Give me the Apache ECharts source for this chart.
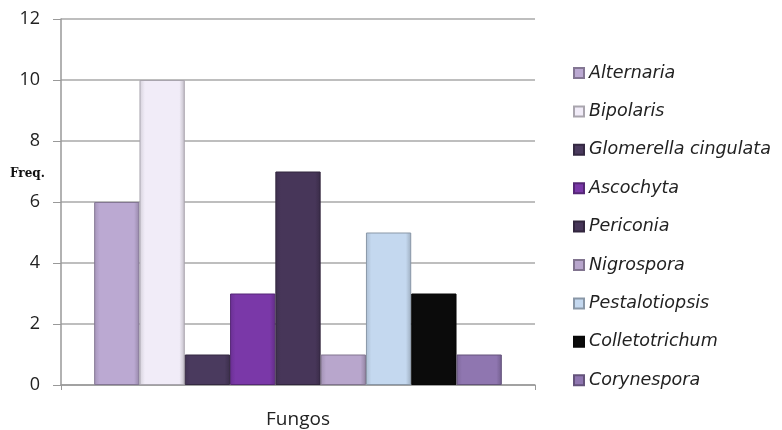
<!DOCTYPE html>
<html>
<head>
<meta charset="utf-8">
<script src="https://cdn.jsdelivr.net/npm/echarts@6/dist/echarts.min.js"></script>
<style>html,body{margin:0;padding:0;background:#fff;}#c{width:782px;height:430px;}</style>
</head>
<body>
<div id="c"></div>
<script>
const categories = ['Fungos'];
const seriesNames = ['Alternaria','Bipolaris','Glomerella cingulata','Ascochyta','Periconia','Nigrospora','Pestalotiopsis','Colletotrichum','Corynespora'];
const seriesValues = [6, 10, 1, 3, 7, 1, 5, 3, 1];
const seriesColors = ['#BBA9D2','#F1ECF8','#4A3A5E','#7A38A8','#473659','#B8A6CC','#C4D8EF','#0B0B0B','#8F76B0'];
const yTicks = [0, 2, 4, 6, 8, 10, 12];

function shade(hex, f){
  const n = parseInt(hex.slice(1),16);
  let r=(n>>16)&255,g=(n>>8)&255,b=n&255;
  const m = c => Math.max(0,Math.min(255,Math.round(f>0? c+(255-c)*f : c*(1+f))));
  return 'rgb('+m(r)+','+m(g)+','+m(b)+')';
}

const chart = echarts.init(document.getElementById('c'));
chart.setOption({
  backgroundColor: '#ffffff',
  animation: false,
  grid: { left: 61, right: 247, top: 19, bottom: 45 },
  legend: {
    orient: 'vertical',
    left: 573,
    top: 64,
    padding: 0,
    itemWidth: 10,
    itemHeight: 10,
    itemGap: 20.4,
    icon: 'rect',
    textStyle: { fontFamily: 'DejaVu Sans', fontStyle: 'italic', fontSize: 17.5, color: '#222', lineHeight: 18 },
    data: seriesNames
  },
  xAxis: {
    type: 'category',
    data: categories,
    axisLine: { lineStyle: { color: '#999', width: 1.5 } },
    axisTick: { show: true, alignWithLabel: false, length: 5, lineStyle: { color: '#999' } },
    axisLabel: { fontFamily: 'Open Sans', fontSize: 19, color: '#222', margin: 25 }
  },
  yAxis: {
    type: 'value',
    min: yTicks[0],
    max: yTicks[yTicks.length-1],
    interval: 2,
    axisLine: { show: true, lineStyle: { color: '#999', width: 1.5 } },
    axisTick: { show: true, length: 8, lineStyle: { color: '#999' } },
    splitLine: { lineStyle: { color: '#a8a8a8', width: 1.5 } },
    axisLabel: { fontFamily: 'Open Sans', fontSize: 18, color: '#222', margin: 21 }
  },
  graphic: [{
    type: 'text', left: 10, top: 168,
    style: { text: 'Freq.', font: 'bold 12px "DejaVu Serif", serif', fill: '#111' }
  }],
  series: seriesNames.map((name, i) => ({
    name: name,
    type: 'bar',
    barGap: '0%',
    barCategoryGap: '14%',
    data: [seriesValues[i]],
    itemStyle: {
      color: {
        type: 'linear', x: 0, y: 0, x2: 1, y2: 0,
        colorStops: [
          { offset: 0, color: shade(seriesColors[i], -0.12) },
          { offset: 0.12, color: seriesColors[i] },
          { offset: 0.88, color: seriesColors[i] },
          { offset: 1, color: shade(seriesColors[i], -0.2) }
        ]
      },
      borderColor: shade(seriesColors[i], -0.3),
      borderWidth: 1
    }
  }))
});
</script>
</body>
</html>
